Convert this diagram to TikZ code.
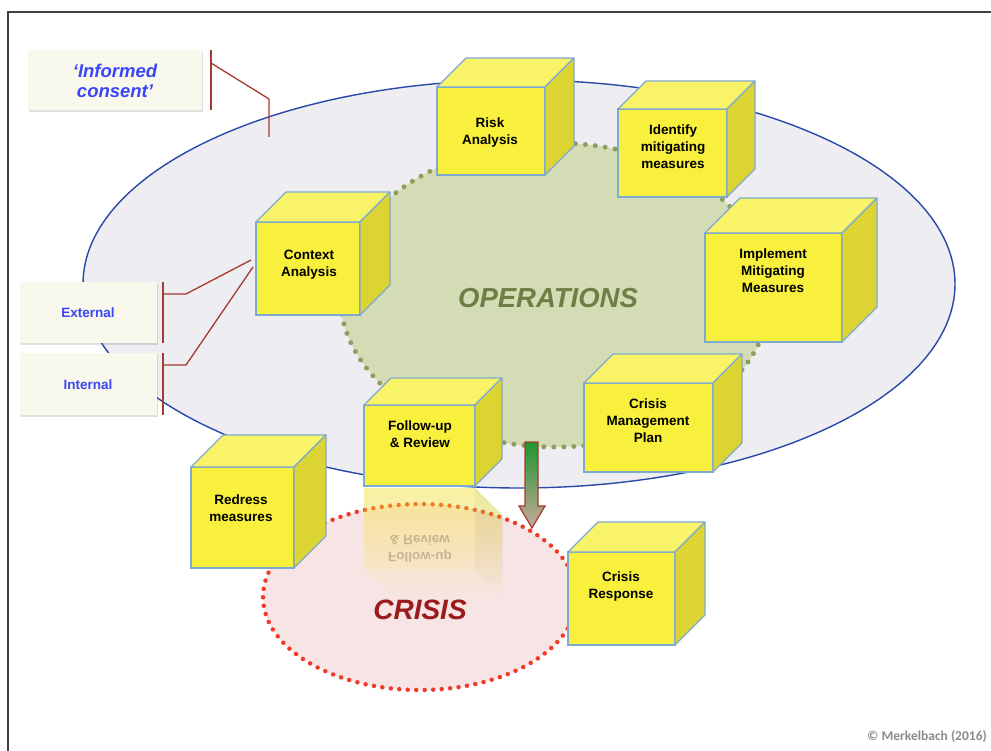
\documentclass[tikz,border=0pt]{standalone}
\usepackage{fontspec}
\setmainfont{Liberation Sans}
\newfontfamily\carlito{Carlito}
\usetikzlibrary{shadows}
\definecolor{frontY}{HTML}{F8F03C}
\definecolor{topY}{HTML}{F9F368}
\definecolor{sideY}{HTML}{DCD432}
\definecolor{cubeedge}{HTML}{7FAAD0}
\definecolor{bigfill}{HTML}{EDEDF2}
\definecolor{bigline}{HTML}{2A48A8}
\definecolor{opsfill}{HTML}{D4DCB6}
\definecolor{opsdot}{HTML}{8E9E5C}
\definecolor{opstext}{HTML}{6E7F45}
\definecolor{crisfill}{HTML}{F7E4E4}
\definecolor{crisdot}{HTML}{F03A2A}
\definecolor{cristext}{HTML}{9B1B1B}
\definecolor{brk}{HTML}{A63A2E}
\definecolor{boxfill}{HTML}{F8F8EC}
\definecolor{bluetxt}{HTML}{3A45F5}
\tikzset{
  cubefront/.style={draw=cubeedge, fill=frontY, line width=1.1pt, inner sep=0pt, outer sep=0pt},
  cubetop/.style={draw=cubeedge, fill=topY, line width=1.1pt, line join=round},
  cubeside/.style={draw=cubeedge, fill=sideY, line width=1.1pt, line join=round},
  cubetext/.style={align=center, font=\fontsize{13.5}{17}\selectfont\bfseries, text=black, inner sep=0pt},
  notebox/.style={fill=boxfill, inner sep=0pt, drop shadow={shadow xshift=1pt, shadow yshift=-2pt, opacity=0.25}},
  notetext/.style={text=bluetxt, align=center, inner sep=0pt},
  bracket/.style={draw=brk, line width=1.3pt}
}
\newcommand\mkcube[6]{%
  \node[cubefront, minimum width=#4pt, minimum height=#5pt] (#1) at (#2,#3) {};
  \filldraw[cubetop] (#1.north west) -- ++(#6,-#6) -- ([shift={(#6,-#6)}]#1.north east) -- (#1.north east) -- cycle;
  \filldraw[cubeside] (#1.north east) -- ++(#6,-#6) -- ([shift={(#6,-#6)}]#1.south east) -- (#1.south east) -- cycle;
}
\begin{document}
\begin{tikzpicture}[x=1pt,y=-1pt]
\useasboundingbox (0,0) rectangle (991,751);
\fill[white] (0,0) rectangle (991,751);
% frame
\draw[line width=1.5pt, black!75] (8,760) -- (8,12) -- (1000,12);
% big ellipse
\draw[fill=bigfill, draw=bigline, line width=1.4pt] (519,284) ellipse [x radius=436pt, y radius=204pt];
% operations ellipse
\draw[fill=opsfill, draw=opsdot, line width=5pt, line cap=round, dash pattern=on 0pt off 10pt] (555,295) ellipse [x radius=215pt, y radius=152pt];
\node[text=opstext, font=\fontsize{27.5}{28}\selectfont\bfseries\itshape] (ops) at (548,298) {OPERATIONS};
% crisis ellipse
\draw[fill=crisfill, draw=crisdot, line width=4.5pt, line cap=round, dash pattern=on 0pt off 8.5pt] (420,597) ellipse [x radius=157pt, y radius=93pt];
% reflection of follow-up cube (stacked layers give a fade)
\foreach \i in {1,...,18} {
  \begin{scope}
    \clip (360,488) rectangle (506,{488+\i*6});
    \fill[frontY, fill opacity=0.03] (364,488) rectangle (475,569);
    \fill[sideY, fill opacity=0.03] (475,488) -- (502,515) -- (502,596) -- (475,569) -- cycle;
    \fill[topY, fill opacity=0.03] (364,569) -- (391,596) -- (502,596) -- (475,569) -- cycle;
  \end{scope}
}
\node[cubetext, yscale=-1, text opacity=0.2] (reflect) at (420,549) {Follow-up\\\& Review};
\node[text=cristext, font=\fontsize{28}{28}\selectfont\bfseries\itshape] (crisis) at (420,610) {CRISIS};
% cubes
\mkcube{risk}{491}{131}{108}{88}{29}
\node[cubetext] (risktxt) at (490,133) {Risk\\Analysis};
\mkcube{identify}{672.5}{153}{109}{88}{28}
\node[cubetext] (identifytxt) at (673,147) {Identify\\mitigating\\measures};
\mkcube{implement}{773.5}{287.5}{137}{109}{35}
\node[cubetext] (implementtxt) at (773,271) {Implement\\Mitigating\\Measures};
\mkcube{context}{308}{268.5}{104}{93}{30}
\node[cubetext] (contexttxt) at (309,265) {Context\\Analysis};
\mkcube{cmp}{648.5}{427.5}{129}{89}{29}
\node[cubetext] (cmptxt) at (648,421) {Crisis\\Management\\Plan};
\mkcube{follow}{419.5}{445.5}{111}{81}{27}
\node[cubetext] (followtxt) at (420,434) {Follow-up\\\& Review};
\mkcube{redress}{242.5}{517.5}{103}{101}{32}
\node[cubetext] (redresstxt) at (241,508) {Redress\\measures};
\mkcube{response}{621.5}{598.5}{107}{93}{30}
\node[cubetext] (responsetxt) at (621,587) {Crisis\\Response};
% arrow
\shade[top color={rgb,255:red,30;green,150;blue,50}, bottom color={rgb,255:red,200;green,168;blue,152}, draw=brk, line width=1.2pt, line join=miter]
  (525,442) -- (538,442) -- (538,506) -- (545,506) -- (532,528) -- (519,506) -- (525,506) -- cycle;
% note boxes
\node[notebox, minimum width=174pt, minimum height=60pt] (consent) at (115,80) {};
\node[notetext, font=\fontsize{18.5}{20}\selectfont\bfseries\itshape] (consenttxt) at (115,81) {‘Informed\\consent’};
\node[notebox, minimum width=137pt, minimum height=61pt] (external) at (88.5,312.5) {};
\node[notetext, font=\fontsize{13.5}{15}\selectfont\bfseries] (externaltxt) at (88,313) {External};
\node[notebox, minimum width=137pt, minimum height=62pt] (internal) at (88.5,384) {};
\node[notetext, font=\fontsize{13.5}{15}\selectfont\bfseries] (internaltxt) at (88,385) {Internal};
% brackets
\coordinate (c1) at (269,137);
\draw[bracket] (211,50) -- (211,110);
\draw[bracket] (211,63) -- (269,99) -- (c1);
\coordinate (e1) at (251,260);
\coordinate (i1) at (253,267);
\draw[bracket] (163,282) -- (163,343);
\draw[bracket] (163,294) -- (186,294) -- (e1);
\draw[bracket] (163,353) -- (163,415);
\draw[bracket] (163,365) -- (186,365) -- (i1);
% copyright
\node[anchor=east, text=black!45, font=\carlito\fontsize{13.5}{15}\selectfont\bfseries, inner sep=0pt] (copy) at (987,737) {© Merkelbach (2016)};
\end{tikzpicture}
\end{document}
